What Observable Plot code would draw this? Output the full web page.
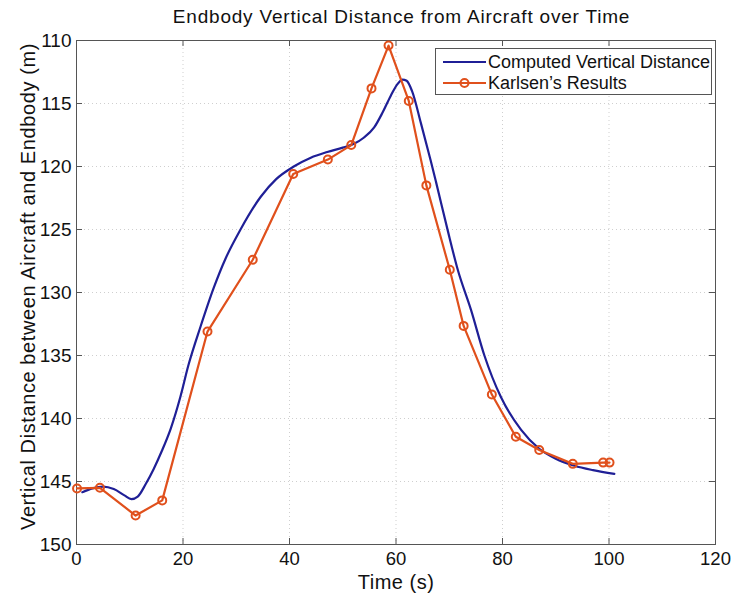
<!DOCTYPE html>
<html>
<head>
<meta charset="utf-8">
<script src="https://cdn.jsdelivr.net/npm/d3@7"></script>
<script src="https://cdn.jsdelivr.net/npm/@observablehq/plot@0.6"></script>
<style>
  body { margin: 0; background: #fff; font-family: "Liberation Sans", Arial, sans-serif; }
  #wrap { position: relative; width: 735px; height: 598px; }
  #title { position: absolute; left: 82px; width: 639px; top: 6px; text-align: center; font-size: 19px; letter-spacing: 0.8px; color: #111; }
  #chart { position: absolute; left: 0; top: 30px; }
  #legend { position: absolute; left: 435px; top: 48px; width: 277px; height: 47px; border: 1px solid #555; background: #fff; box-sizing: border-box; }
  .row { position: absolute; left: 0; height: 22px; display: flex; align-items: center; font-size: 18px; color: #111; white-space: nowrap; }
  .row svg { margin-left: 7px; margin-right: 2px; }
</style>
</head>
<body>
<div id="wrap">
  <div id="title">Endbody Vertical Distance from Aircraft over Time</div>
  <div id="chart"></div>
  <div id="legend">
    <div class="row" style="top:2px"><svg width="43" height="12"><line x1="0" y1="6" x2="43" y2="6" stroke="#1f1f96" stroke-width="2.2"/></svg>Computed Vertical Distance</div>
    <div class="row" style="top:23px"><svg width="43" height="12"><line x1="0" y1="6" x2="43" y2="6" stroke="#e0501c" stroke-width="2.2"/><circle cx="21.5" cy="6" r="4" fill="none" stroke="#e0501c" stroke-width="2"/></svg>Karlsen’s Results</div>
  </div>
</div>
<script>
// Computed vertical distance (blue curve)
const compT = [1.1, 3, 5, 7, 9, 10.3, 11.5, 13, 14.5, 16, 17.7, 19.5, 21, 23.3, 25.8, 28, 30.8, 34.6, 37.5, 40.8, 44, 47.1, 50, 52.1, 54, 55.9, 57.5, 59, 60.2, 61.2, 62, 63, 64.7, 66.5, 67.5, 69.7, 71.6, 74.1, 76.6, 79.7, 83.5, 86.9, 90, 93.5, 97, 101];
const compD = [145.85, 145.55, 145.4, 145.6, 146.1, 146.4, 146.2, 145.2, 144.0, 142.6, 140.8, 138.3, 135.8, 132.7, 129.6, 127.3, 125.0, 122.4, 121.0, 120.0, 119.3, 118.85, 118.5, 118.2, 117.7, 116.9, 115.7, 114.4, 113.5, 113.1, 113.2, 114.0, 116.6, 119.5, 121.2, 125.05, 128.2, 131.4, 135.0, 138.3, 140.9, 142.4, 143.2, 143.75, 144.1, 144.4];

// Karlsen's results (orange with circles)
const karlT = [0.1, 4.4, 11.1, 16.1, 24.6, 33.1, 40.7, 47.2, 51.6, 55.4, 58.6, 62.4, 65.7, 70.1, 72.7, 78.0, 82.5, 86.9, 93.2, 98.9, 100.1];
const karlD = [145.55, 145.5, 147.7, 146.5, 133.1, 127.4, 120.6, 119.45, 118.3, 113.8, 110.4, 114.8, 121.5, 128.2, 132.65, 138.1, 141.45, 142.5, 143.6, 143.5, 143.5];

const xTicks = [0, 20, 40, 60, 80, 100, 120];
const yTicks = [110, 115, 120, 125, 130, 135, 140, 145, 150];

const comp = compT.map((t, i) => ({t, d: compD[i]}));
const karl = karlT.map((t, i) => ({t, d: karlD[i]}));

const H = 568, mT = 10, mB = 54;
const frameH = H - mT - mB;
const frameW = 735 - 76 - 20;

const chart = Plot.plot({
  width: 735,
  height: H,
  marginLeft: 76,
  marginRight: 20,
  marginTop: mT,
  marginBottom: mB,
  style: {fontFamily: "'Liberation Sans', Arial, sans-serif", color: "#111", background: "#fff"},
  x: {domain: [0, 120]},
  y: {domain: [110, 150], reverse: true},
  marks: [
    Plot.ruleX(xTicks.slice(1, -1), {stroke: "#cfcfcf", strokeDasharray: "1,3", strokeWidth: 1}),
    Plot.ruleY(yTicks.slice(1, -1), {stroke: "#cfcfcf", strokeDasharray: "1,3", strokeWidth: 1}),
    // inward ticks
    Plot.tickX(xTicks, {x: d => d, insetTop: frameH - 6, stroke: "#555"}),
    Plot.tickX(xTicks, {x: d => d, insetBottom: frameH - 6, stroke: "#555"}),
    Plot.tickY(yTicks, {y: d => d, insetRight: frameW - 6, stroke: "#555"}),
    Plot.tickY(yTicks, {y: d => d, insetLeft: frameW - 6, stroke: "#555"}),
    Plot.frame({stroke: "#555"}),
    Plot.axisX(xTicks, {tickSize: 0, tickPadding: 7, fontSize: 18.5, label: null}),
    Plot.axisY(yTicks, {tickSize: 0, tickPadding: 5, fontSize: 19, label: null}),
    Plot.text(["Time (s)"], {frameAnchor: "bottom", dy: 44, fontSize: 20, className: "xlabel"}),
    Plot.text(["Vertical Distance between Aircraft and Endbody (m)"], {frameAnchor: "left", dx: -48, dy: -6, rotate: -90, textAnchor: "middle", fontSize: 20, className: "ylabel"}),
    Plot.line(comp, {x: "t", y: "d", stroke: "#1f1f96", strokeWidth: 2.2, curve: "monotone-x"}),
    Plot.line(karl, {x: "t", y: "d", stroke: "#e0501c", strokeWidth: 2.2}),
    Plot.dot(karl, {x: "t", y: "d", r: 4, stroke: "#e0501c", strokeWidth: 2, fill: "none"})
  ]
});
d3.select(chart).selectAll(".ylabel text").style("letter-spacing", "0.6px");
d3.select(chart).selectAll(".xlabel text").style("letter-spacing", "0.5px");
document.getElementById("chart").appendChild(chart);
</script>
</body>
</html>
